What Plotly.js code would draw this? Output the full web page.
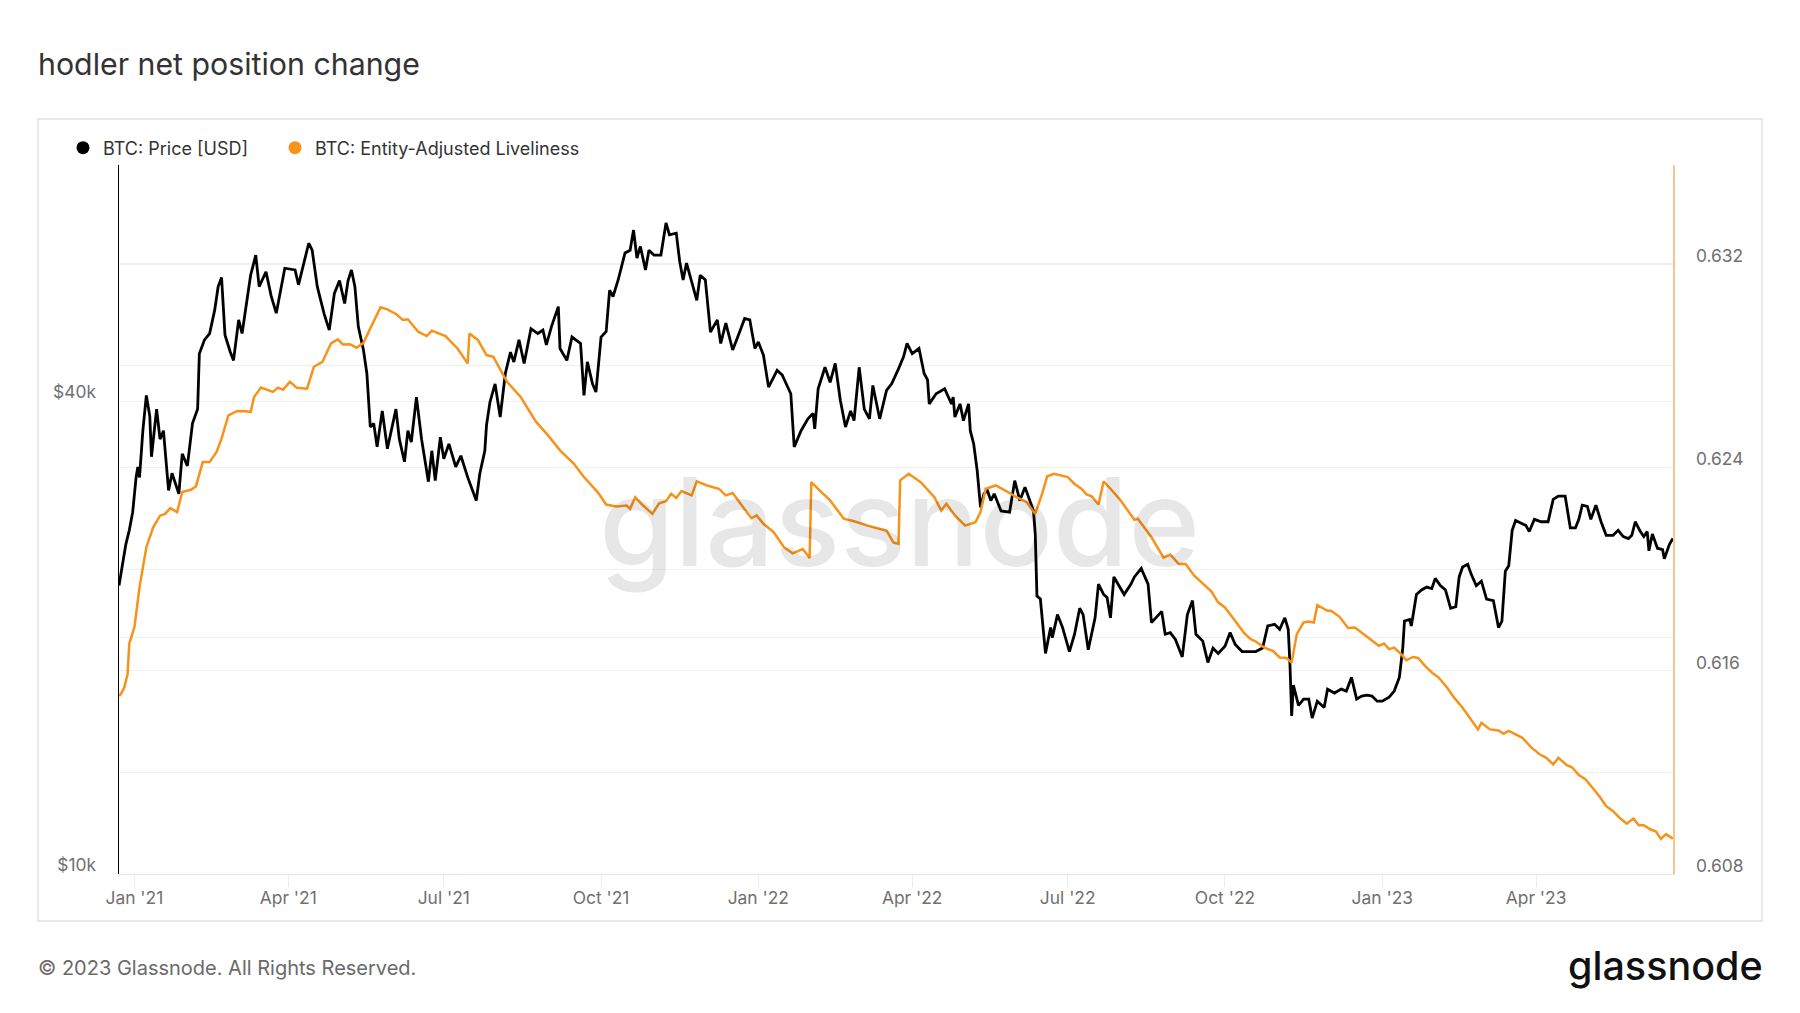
<!DOCTYPE html>
<html><head><meta charset="utf-8">
<script src="https://cdn.plot.ly/plotly-3.0.1.min.js"></script>
<style>html,body{margin:0;padding:0;background:#fff}#chart{width:1800px;height:1013px}</style>
</head><body><div id="chart"></div>
<script>
// ---------- DATA ----------
const priceDates = [
'2020-12-23','2020-12-25','2020-12-27','2020-12-29','2020-12-31','2021-01-02','2021-01-03','2021-01-04','2021-01-06','2021-01-08',
'2021-01-10','2021-01-11','2021-01-14','2021-01-16','2021-01-18','2021-01-21','2021-01-23','2021-01-27','2021-01-29','2021-02-01',
'2021-02-04','2021-02-07','2021-02-08','2021-02-11','2021-02-14','2021-02-17','2021-02-19','2021-02-21','2021-02-23','2021-02-26',
'2021-02-28','2021-03-03','2021-03-05','2021-03-10','2021-03-13','2021-03-15','2021-03-19','2021-03-22','2021-03-25','2021-03-30',
'2021-04-05','2021-04-07','2021-04-10','2021-04-13','2021-04-15','2021-04-18','2021-04-22','2021-04-25','2021-04-28','2021-05-01',
'2021-05-04','2021-05-06','2021-05-08','2021-05-10','2021-05-12','2021-05-15','2021-05-17','2021-05-19','2021-05-21','2021-05-23',
'2021-05-26','2021-05-29','2021-06-03','2021-06-05','2021-06-08','2021-06-10','2021-06-12','2021-06-15','2021-06-18','2021-06-22',
'2021-06-24','2021-06-26','2021-06-29','2021-07-01','2021-07-04','2021-07-08','2021-07-11','2021-07-15','2021-07-20','2021-07-22',
'2021-07-25','2021-07-26','2021-07-28','2021-07-31','2021-08-03','2021-08-06','2021-08-09','2021-08-11','2021-08-14','2021-08-17',
'2021-08-21','2021-08-25','2021-08-28','2021-08-30','2021-09-02','2021-09-06','2021-09-07','2021-09-11','2021-09-14','2021-09-19',
'2021-09-21','2021-09-23','2021-09-26','2021-09-28','2021-10-01','2021-10-04','2021-10-06','2021-10-08','2021-10-11','2021-10-15',
'2021-10-18','2021-10-20','2021-10-22','2021-10-24','2021-10-27','2021-10-29','2021-11-01','2021-11-05','2021-11-08','2021-11-10',
'2021-11-14','2021-11-16','2021-11-18','2021-11-20','2021-11-26','2021-11-28','2021-12-01','2021-12-04','2021-12-08','2021-12-10',
'2021-12-13','2021-12-17','2021-12-21','2021-12-24','2021-12-27','2021-12-30','2022-01-01','2022-01-04','2022-01-07','2022-01-12',
'2022-01-15','2022-01-20','2022-01-22','2022-01-26','2022-01-30','2022-02-02','2022-02-03','2022-02-05','2022-02-09','2022-02-12',
'2022-02-15','2022-02-18','2022-02-21','2022-02-24','2022-02-26','2022-03-01','2022-03-04','2022-03-07','2022-03-09','2022-03-13',
'2022-03-17','2022-03-20','2022-03-24','2022-03-27','2022-03-29','2022-04-01','2022-04-05','2022-04-08','2022-04-10','2022-04-11',
'2022-04-15','2022-04-20','2022-04-24','2022-04-25','2022-04-26','2022-04-29','2022-05-01','2022-05-04','2022-05-05','2022-05-07',
'2022-05-09','2022-05-10','2022-05-11','2022-05-13','2022-05-15','2022-05-17','2022-05-19','2022-05-23','2022-05-28','2022-05-31',
'2022-06-03','2022-06-06','2022-06-09','2022-06-11','2022-06-12','2022-06-13','2022-06-15','2022-06-17','2022-06-18','2022-06-21',
'2022-06-22','2022-06-25','2022-06-28','2022-07-02','2022-07-05','2022-07-08','2022-07-10','2022-07-13','2022-07-16','2022-07-17',
'2022-07-19','2022-07-22','2022-07-24','2022-07-26','2022-07-28','2022-08-03','2022-08-07','2022-08-09','2022-08-13','2022-08-17',
'2022-08-19','2022-08-25','2022-08-27','2022-08-30','2022-09-02','2022-09-06','2022-09-09','2022-09-12','2022-09-14','2022-09-18',
'2022-09-21','2022-09-24','2022-09-27','2022-10-01','2022-10-04','2022-10-07','2022-10-11','2022-10-15','2022-10-19','2022-10-23',
'2022-10-26','2022-10-30','2022-11-02','2022-11-05','2022-11-07','2022-11-08','2022-11-09','2022-11-10','2022-11-13','2022-11-16',
'2022-11-19','2022-11-21','2022-11-24','2022-11-28','2022-11-30','2022-12-04','2022-12-08','2022-12-11','2022-12-14','2022-12-17',
'2022-12-20','2022-12-23','2022-12-26','2022-12-29','2023-01-01','2023-01-05','2023-01-08','2023-01-11','2023-01-13','2023-01-14',
'2023-01-17','2023-01-18','2023-01-21','2023-01-24','2023-01-27','2023-01-30','2023-02-01','2023-02-04','2023-02-07','2023-02-10',
'2023-02-13','2023-02-15','2023-02-17','2023-02-20','2023-02-22','2023-02-25','2023-02-28','2023-03-03','2023-03-07','2023-03-10',
'2023-03-12','2023-03-14','2023-03-16','2023-03-18','2023-03-20','2023-03-23','2023-03-26','2023-03-28','2023-03-31','2023-04-04',
'2023-04-08','2023-04-11','2023-04-14','2023-04-18','2023-04-21','2023-04-24','2023-04-26','2023-04-28','2023-05-01','2023-05-03',
'2023-05-06','2023-05-09','2023-05-12','2023-05-16','2023-05-19','2023-05-22','2023-05-25','2023-05-27','2023-05-29','2023-06-01',
'2023-06-03','2023-06-05','2023-06-06','2023-06-08','2023-06-11','2023-06-14','2023-06-15','2023-06-18','2023-06-20'
];
const priceUSD = [
23300,24700,26300,27400,28900,32000,33000,32000,36800,40700,
38300,34000,39100,35800,36700,30800,32400,30500,34300,33100,
37500,39100,46000,47900,48800,52300,56000,57500,48600,46300,
45100,50800,48800,57900,61400,56000,58500,54500,51800,59100,
58800,56300,60000,63600,62300,56000,51700,49300,54900,57000,
53300,57000,58800,56000,49800,46500,43400,37100,37500,35000,
38900,34800,39100,35800,33500,36700,35500,40500,35800,31600,
34600,31700,36000,33800,35300,33000,34100,32000,29900,32300,
34600,37300,39900,42100,38200,43400,46200,44900,47900,44700,
49500,48800,49300,47200,49800,52800,46700,45100,48300,47400,
40700,44900,42100,41100,48300,49100,55400,54400,57100,61800,
62300,66100,60900,63000,58800,62300,61400,61400,67500,65200,
65500,60300,57100,60000,53800,57900,57100,49000,50800,47400,
50300,46500,49000,51000,50800,46700,47600,45800,41700,43800,
43200,40900,35000,36700,38000,38600,36900,41500,44200,42300,
44700,40100,37100,38900,37800,44200,39100,38000,41900,38000,
41300,42100,44000,45600,47400,46000,46700,43400,42600,39700,
40900,41500,39700,40500,38200,39700,37800,39700,36700,35300,
32700,30500,29300,30500,30800,29900,30500,29000,28900,31700,
29900,31100,29900,29000,27100,22600,22400,20400,19100,20600,
20000,21400,20600,19200,20200,21800,21400,19300,20800,21200,
23400,22700,22500,21200,23900,22700,23400,23900,24500,23400,
20900,21600,20200,20300,19900,18900,21400,22300,20200,19800,
18600,19400,19100,19500,20300,19600,19200,19200,19200,19400,
20700,20800,20500,21200,20500,18500,15900,17400,16400,16700,
16700,15800,16600,16300,17200,17000,17200,17100,17800,16700,
16850,16900,16850,16600,16600,16800,17100,17800,19400,21000,
21100,20700,22700,23000,23200,23100,23800,23300,23000,21800,
21900,23900,24600,24800,24100,23300,23600,22400,22300,20600,
21000,24300,24700,27400,28200,28000,27800,27300,28300,28100,
28100,30000,30300,30300,27600,27600,28300,29500,29400,28300,
29500,28100,27000,27000,27400,26900,26750,27000,28100,27300,
26900,27300,25800,27100,26000,25900,25200,26300,26750
];
const liveDates = [
'2020-12-23','2020-12-24','2020-12-26','2020-12-28','2020-12-29','2021-01-01','2021-01-04','2021-01-08','2021-01-12','2021-01-16',
'2021-01-19','2021-01-22','2021-01-26','2021-01-29','2021-02-03','2021-02-06','2021-02-10','2021-02-14','2021-02-18','2021-02-21',
'2021-02-25','2021-03-02','2021-03-06','2021-03-10','2021-03-12','2021-03-16','2021-03-23','2021-03-26','2021-03-29','2021-04-02',
'2021-04-06','2021-04-12','2021-04-16','2021-04-21','2021-04-26','2021-04-30','2021-05-03','2021-05-07','2021-05-11','2021-05-15',
'2021-05-19','2021-05-22','2021-05-25','2021-05-29','2021-06-03','2021-06-07','2021-06-10','2021-06-16','2021-06-21','2021-06-24',
'2021-07-02','2021-07-09','2021-07-15','2021-07-16','2021-07-21','2021-07-26','2021-07-30','2021-08-07','2021-08-15','2021-08-24',
'2021-08-31','2021-09-07','2021-09-15','2021-09-21','2021-09-29','2021-10-04','2021-10-10','2021-10-16','2021-10-18','2021-10-21',
'2021-10-25','2021-10-31','2021-11-04','2021-11-08','2021-11-11','2021-11-14','2021-11-17','2021-11-23','2021-11-26','2021-12-02',
'2021-12-09','2021-12-13','2021-12-17','2021-12-23','2021-12-28','2021-12-31','2022-01-04','2022-01-10','2022-01-16','2022-01-21',
'2022-01-27','2022-01-31','2022-02-01','2022-02-06','2022-02-12','2022-02-20','2022-02-26','2022-03-06','2022-03-13','2022-03-17',
'2022-03-21','2022-03-24','2022-03-25','2022-03-30','2022-04-06','2022-04-14','2022-04-18','2022-04-21','2022-04-26','2022-05-02',
'2022-05-08','2022-05-11','2022-05-14','2022-05-20','2022-05-27','2022-06-01','2022-06-07','2022-06-12','2022-06-16','2022-06-19',
'2022-06-23','2022-07-01','2022-07-05','2022-07-09','2022-07-12','2022-07-15','2022-07-19','2022-07-22','2022-07-26','2022-08-01',
'2022-08-09','2022-08-11','2022-08-15','2022-08-19','2022-08-26','2022-08-30','2022-09-04','2022-09-08','2022-09-13','2022-09-17',
'2022-09-20','2022-09-23','2022-09-27','2022-10-01','2022-10-07','2022-10-12','2022-10-16','2022-10-19','2022-10-24','2022-10-29',
'2022-11-02','2022-11-06','2022-11-09','2022-11-12','2022-11-16','2022-11-19','2022-11-22','2022-11-24','2022-11-30','2022-12-02',
'2022-12-07','2022-12-12','2022-12-16','2022-12-21','2022-12-26','2022-12-30','2023-01-02','2023-01-05','2023-01-08','2023-01-12',
'2023-01-15','2023-01-19','2023-01-22','2023-01-26','2023-01-30','2023-02-03','2023-02-08','2023-02-12','2023-02-17','2023-02-21',
'2023-02-26','2023-02-28','2023-03-05','2023-03-10','2023-03-13','2023-03-16','2023-03-20','2023-03-24','2023-03-29','2023-04-03',
'2023-04-07','2023-04-11','2023-04-14','2023-04-19','2023-04-22','2023-04-26','2023-04-30','2023-05-04','2023-05-08','2023-05-12',
'2023-05-16','2023-05-20','2023-05-24','2023-05-28','2023-05-31','2023-06-03','2023-06-07','2023-06-10','2023-06-13','2023-06-16',
'2023-06-20'
];
const liveValues = [
0.61500,0.61507,0.61533,0.61586,0.61706,0.61770,0.61928,0.62086,0.62164,0.62210,
0.62217,0.62240,0.62224,0.62303,0.62312,0.62325,0.62421,0.62421,0.62460,0.62513,
0.62605,0.62621,0.62622,0.62618,0.62677,0.62714,0.62697,0.62714,0.62706,0.62737,
0.62713,0.62710,0.62796,0.62815,0.62888,0.62904,0.62884,0.62885,0.62871,0.62890,
0.62947,0.62987,0.63030,0.63022,0.63004,0.62980,0.62983,0.62934,0.62917,0.62938,
0.62917,0.62868,0.62809,0.62927,0.62901,0.62842,0.62835,0.62737,0.62677,0.62579,
0.62526,0.62467,0.62415,0.62362,0.62303,0.62254,0.62246,0.62250,0.62237,0.62283,
0.62254,0.62217,0.62259,0.62267,0.62296,0.62280,0.62307,0.62290,0.62345,0.62329,
0.62316,0.62290,0.62299,0.62244,0.62200,0.62211,0.62178,0.62145,0.62086,0.62062,
0.62079,0.62044,0.62342,0.62309,0.62270,0.62198,0.62188,0.62171,0.62158,0.62151,
0.62105,0.62099,0.62349,0.62375,0.62342,0.62283,0.62230,0.62257,0.62211,0.62171,
0.62184,0.62224,0.62316,0.62329,0.62303,0.62283,0.62263,0.62217,0.62296,0.62365,
0.62375,0.62362,0.62335,0.62316,0.62294,0.62286,0.62254,0.62345,0.62316,0.62270,
0.62194,0.62198,0.62162,0.62125,0.62046,0.62057,0.62020,0.62020,0.61974,0.61948,
0.61928,0.61912,0.61869,0.61849,0.61796,0.61750,0.61724,0.61715,0.61691,0.61678,
0.61652,0.61650,0.61632,0.61744,0.61790,0.61794,0.61790,0.61858,0.61836,0.61836,
0.61812,0.61768,0.61770,0.61744,0.61718,0.61698,0.61707,0.61685,0.61691,0.61665,
0.61641,0.61654,0.61650,0.61619,0.61593,0.61573,0.61533,0.61494,0.61454,0.61415,
0.61369,0.61395,0.61369,0.61365,0.61352,0.61363,0.61350,0.61336,0.61299,0.61271,
0.61257,0.61231,0.61257,0.61228,0.61220,0.61189,0.61172,0.61139,0.61106,0.61067,
0.61047,0.61020,0.60998,0.61018,0.60992,0.60992,0.60975,0.60968,0.60938,0.60957,
0.60939
];
const seriesNames = ['BTC: Price [USD]', 'BTC: Entity-Adjusted Liveliness'];
const priceTickVals = [10000, 40000];
const priceTickText = ['$10k', '$40k'];
const priceMinorGrid = [20000, 60000, 80000];
const titleText = 'hodler net position change';
const footerText = '\u00a9 2023 Glassnode. All Rights Reserved.';
const brandText = 'glassnode';

// ---------- LAYOUT HELPERS (pixel -> paper) ----------
const W = 1800, H = 1013;
const PL = 119, PR = 1673, PT = 165, PB = 874;
const fx = X => (X - PL) / (PR - PL);
const fy = Y => (PB - Y) / (PB - PT);

const FONT = 'Inter, "Noto Sans", Roboto, sans-serif';
const ORANGE = '#f7931a';
const GRID = '#f0f0f0';
const TICKC = '#707070';
const TICKSIZE = 17.4;

const traces = [
  {x: priceDates, y: priceUSD, type: 'scatter', mode: 'lines', name: seriesNames[0],
   line: {color: '#000000', width: 2.8}, yaxis: 'y', showlegend: false},
  {x: liveDates, y: liveValues, type: 'scatter', mode: 'lines', name: seriesNames[1],
   line: {color: ORANGE, width: 2.5}, yaxis: 'y2', showlegend: false},
  {x: [null], y: [null], type: 'scatter', mode: 'markers', name: seriesNames[0],
   marker: {color: '#000000', size: 13}, yaxis: 'y', showlegend: true, legend: 'legend'},
  {x: [null], y: [null], type: 'scatter', mode: 'markers', name: seriesNames[1],
   marker: {color: ORANGE, size: 13}, yaxis: 'y2', showlegend: true, legend: 'legend2'}
];

const legendBase = {orientation: 'h', xanchor: 'left', yanchor: 'middle', y: fy(148),
  font: {family: FONT, size: 18, color: '#333333'}, bgcolor: 'rgba(0,0,0,0)', itemwidth: 30};

const layout = {
  width: W, height: H,
  margin: {l: PL, r: W - PR, t: PT, b: H - PB, pad: 0},
  paper_bgcolor: '#ffffff', plot_bgcolor: '#ffffff',
  font: {family: FONT, size: TICKSIZE, color: TICKC},
  title: {text: titleText, xref: 'container', yref: 'container', x: 38 / W, xanchor: 'left',
          y: 1 - 64 / H, yanchor: 'middle', font: {family: FONT, size: 30.3, color: '#333333'}},
  showlegend: true,
  legend: Object.assign({}, legendBase, {x: fx(63)}),
  legend2: Object.assign({}, legendBase, {x: fx(275)}),
  xaxis: {type: 'date', range: ['2020-12-23', '2023-06-20 02:00'], tick0: '2021-01-01', dtick: 'M3',
          tickformat: "%b '%y", showgrid: false, zeroline: false, showline: true, linecolor: '#e4e4e4',
          linewidth: 1, ticks: 'outside', ticklen: 12, tickcolor: '#ececec', tickwidth: 1,
          ticklabelstandoff: -4,
          tickfont: {family: FONT, size: TICKSIZE, color: TICKC}, fixedrange: true},
  yaxis: {type: 'log', range: [4, Math.log10(80000)], side: 'left', tickmode: 'array',
          tickvals: priceTickVals, ticktext: priceTickText, showgrid: true, gridcolor: GRID, gridwidth: 1,
          minor: {tickmode: 'array', tickvals: priceMinorGrid, showgrid: true, gridcolor: GRID, ticks: ''},
          zeroline: false, showline: true, linecolor: '#000000', linewidth: 1.5, ticks: '',
          ticklabelposition: 'outside top', ticklabelstandoff: 18, ticklabelshift: 3,
          tickfont: {family: FONT, size: TICKSIZE, color: TICKC}, fixedrange: true},
  yaxis2: {overlaying: 'y', side: 'right', range: [0.608, 0.6359], tick0: 0.608, dtick: 0.008,
           tickformat: '.3f', showgrid: true, gridcolor: GRID, gridwidth: 1,
           minor: {tick0: 0.608, dtick: 0.004, showgrid: true, gridcolor: GRID, ticks: ''},
           zeroline: false, showline: true, linecolor: '#f9c48e', linewidth: 1.5, ticks: '',
           ticklabelposition: 'outside top', ticklabelstandoff: 18, ticklabelshift: 4,
           tickfont: {family: FONT, size: TICKSIZE, color: TICKC}, fixedrange: true},
  shapes: [
    {type: 'rect', xref: 'paper', yref: 'paper', x0: fx(38), x1: fx(1762), y0: fy(921), y1: fy(119),
     line: {color: '#e2e2e2', width: 1.5}, fillcolor: 'rgba(0,0,0,0)', layer: 'below'}
  ],
  annotations: [
    {text: brandText, xref: 'paper', yref: 'paper', x: fx(900), y: fy(521), xanchor: 'center', yanchor: 'middle',
     showarrow: false, font: {family: FONT, size: 122, color: 'rgba(0,0,0,0.095)', weight: 500}},
    {text: footerText, xref: 'paper', yref: 'paper', x: fx(36), y: fy(968), xanchor: 'left', yanchor: 'middle',
     showarrow: false, font: {family: FONT, size: 20, color: '#6a6a6a'}},
    {text: brandText, xref: 'paper', yref: 'paper', x: fx(1765), y: fy(966), xanchor: 'right', yanchor: 'middle',
     showarrow: false, font: {family: FONT, size: 39.5, color: '#111111', weight: 500}}
  ],
  hovermode: false
};

Plotly.newPlot('chart', traces, layout, {displayModeBar: false, staticPlot: true});
</script></body></html>
